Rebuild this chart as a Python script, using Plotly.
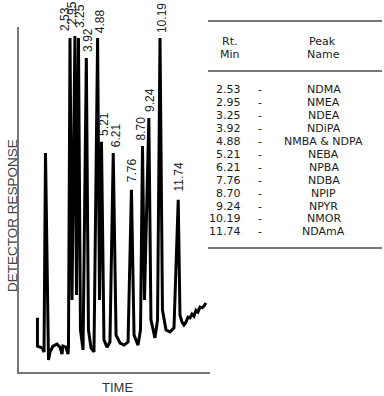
import plotly.graph_objects as go

# ---------------- data ----------------
# Chromatogram trace: retention time (min) and detector response (arbitrary units)
trace_time = [-0.24, -0.24, 0.15, 0.32, 0.445, 0.70, 0.83, 1.08, 1.42, 1.68, 1.85, 1.93, 2.19, 2.36, 2.40,
              2.53, 2.70, 2.95, 3.08, 3.25, 3.42, 3.64, 3.92, 4.10, 4.32, 4.57, 4.88, 5.04, 5.21, 5.42,
              5.68, 5.93, 6.21, 6.45, 6.79, 7.13, 7.47, 7.76, 7.98, 8.32, 8.53, 8.70, 8.87, 9.24, 9.42,
              9.76, 9.98, 10.19, 10.40, 10.70, 11.04, 11.38, 11.74, 11.89, 12.06, 12.23, 12.40, 12.57,
              12.74, 12.91, 13.08, 13.25, 13.42, 13.59, 13.76, 13.93, 14.10]
trace_resp = [15.7, 7.5, 7.0, 5.8, 63.5, 3.5, 5.8, 7.5, 8.1, 7.2, 5.2, 7.5, 7.2, 5.2, 7.5,
              96.8, 20.9, 97.4, 22.3, 96.8, 12.2, 6.4, 91.0, 12.2, 7.0, 5.8, 96.8, 20.9, 66.7, 9.3,
              7.2, 8.7, 63.5, 10.7, 8.4, 7.8, 8.7, 52.8, 10.7, 7.8, 12.2, 65.5, 20.9, 73.6, 15.1,
              9.9, 15.1, 96.8, 18.0, 12.2, 11.6, 12.8, 49.9, 16.5, 14.5, 13.6, 14.5, 15.9,
              15.7, 16.8, 16.2, 17.9, 17.4, 18.8, 18.6, 19.1, 20.0]

# Labelled peaks
peak_times = [2.53, 2.95, 3.25, 3.92, 4.88, 5.21, 6.21, 7.76, 8.70, 9.24, 10.19, 11.74]
peak_heights = [96.8, 97.4, 96.8, 91.0, 96.8, 66.7, 63.5, 52.8, 65.5, 73.6, 96.8, 49.9]

# Peak table
table_rt = ["2.53", "2.95", "3.25", "3.92", "4.88", "5.21", "6.21", "7.76", "8.70", "9.24", "10.19", "11.74"]
table_names = ["NDMA", "NMEA", "NDEA", "NDiPA", "NMBA & NDPA", "NEBA", "NPBA", "NDBA",
               "NPIP", "NPYR", "NMOR", "NDAmA"]

# ---------------- styling / layout helpers ----------------
W, H = 384, 396


def px(x):
    return x / W


def py(y):
    return 1 - y / H


# label offsets (pixels) to mimic hand placement
label_dx = [-5, -3, 1.5, 1.5, 2.5, 2.5, 3, 0, -1, 1, 2, 1]
label_dy = [5, 9, 8, 4, 3, 4, 4, 6, 3, 4, 3, 6]

fig = go.Figure()
fig.add_trace(go.Scatter(x=trace_time, y=trace_resp, mode="lines",
                         line=dict(color="#000000", width=3), hoverinfo="skip",
                         showlegend=False))

annotations = []
for t, h, dx, dy in zip(peak_times, peak_heights, label_dx, label_dy):
    annotations.append(dict(x=t, y=h, xref="x", yref="y", text=f"{t:.2f}", textangle=-90,
                            xanchor="center", yanchor="bottom", xshift=dx, yshift=dy,
                            showarrow=False,
                            font=dict(family="Liberation Sans, Arial", size=12, color="#222")))

annotations.append(dict(x=px(13), y=py(216), xref="paper", yref="paper", text="DETECTOR RESPONSE",
                        textangle=-90, showarrow=False, xanchor="center", yanchor="middle",
                        font=dict(family="Liberation Sans, Arial", size=13.5, color="#444")))
annotations.append(dict(x=px(117), y=py(387), xref="paper", yref="paper", text="TIME",
                        showarrow=False, xanchor="center", yanchor="middle",
                        font=dict(family="Liberation Sans, Arial", size=13, color="#333")))

tfont = dict(family="DejaVu Sans, Verdana", size=11, color="#1a1a1a")
for txt, x, y in [("Rt.", 229, 41.5), ("Min", 229.5, 54.5), ("Peak", 322.5, 41.5), ("Name", 323.5, 54.5)]:
    annotations.append(dict(x=px(x), y=py(y), xref="paper", yref="paper", text=txt, showarrow=False,
                            xanchor="center", yanchor="middle", font=tfont))

for i, (rt, name) in enumerate(zip(table_rt, table_names)):
    yy = 89.5 + i * 12.95
    annotations.append(dict(x=px(243), y=py(yy), xref="paper", yref="paper", text=rt, showarrow=False,
                            xanchor="right", yanchor="middle", font=tfont))
    annotations.append(dict(x=px(260), y=py(yy), xref="paper", yref="paper", text="-", showarrow=False,
                            xanchor="center", yanchor="middle", font=tfont))
    annotations.append(dict(x=px(323.5), y=py(yy), xref="paper", yref="paper", text=name,
                            showarrow=False, xanchor="center", yanchor="middle", font=tfont))

shapes = []
for yy in [21, 71, 248]:
    shapes.append(dict(type="line", xref="paper", yref="paper", x0=px(208), x1=px(382),
                       y0=py(yy), y1=py(yy), line=dict(color="#777", width=2)))

x_lo = 2.53 + (19 - 70) / 11.75
x_hi = 2.53 + (210 - 70) / 11.75

fig.update_layout(
    width=W, height=H,
    margin=dict(l=0, r=0, t=0, b=0),
    paper_bgcolor="white", plot_bgcolor="white",
    xaxis=dict(domain=[px(19), px(210)], range=[x_lo, x_hi], showline=True, linecolor="#777",
               linewidth=1.5, showticklabels=False, ticks="", showgrid=False, zeroline=False),
    yaxis=dict(domain=[py(372), py(27)], range=[0, 100], showline=True, linecolor="#777",
               linewidth=1.5, showticklabels=False, ticks="", showgrid=False, zeroline=False),
    annotations=annotations,
    shapes=shapes,
)

fig.write_html("out.html", config={"displayModeBar": False},
               post_script="document.body.style.margin='0';document.body.style.overflow='hidden';")
